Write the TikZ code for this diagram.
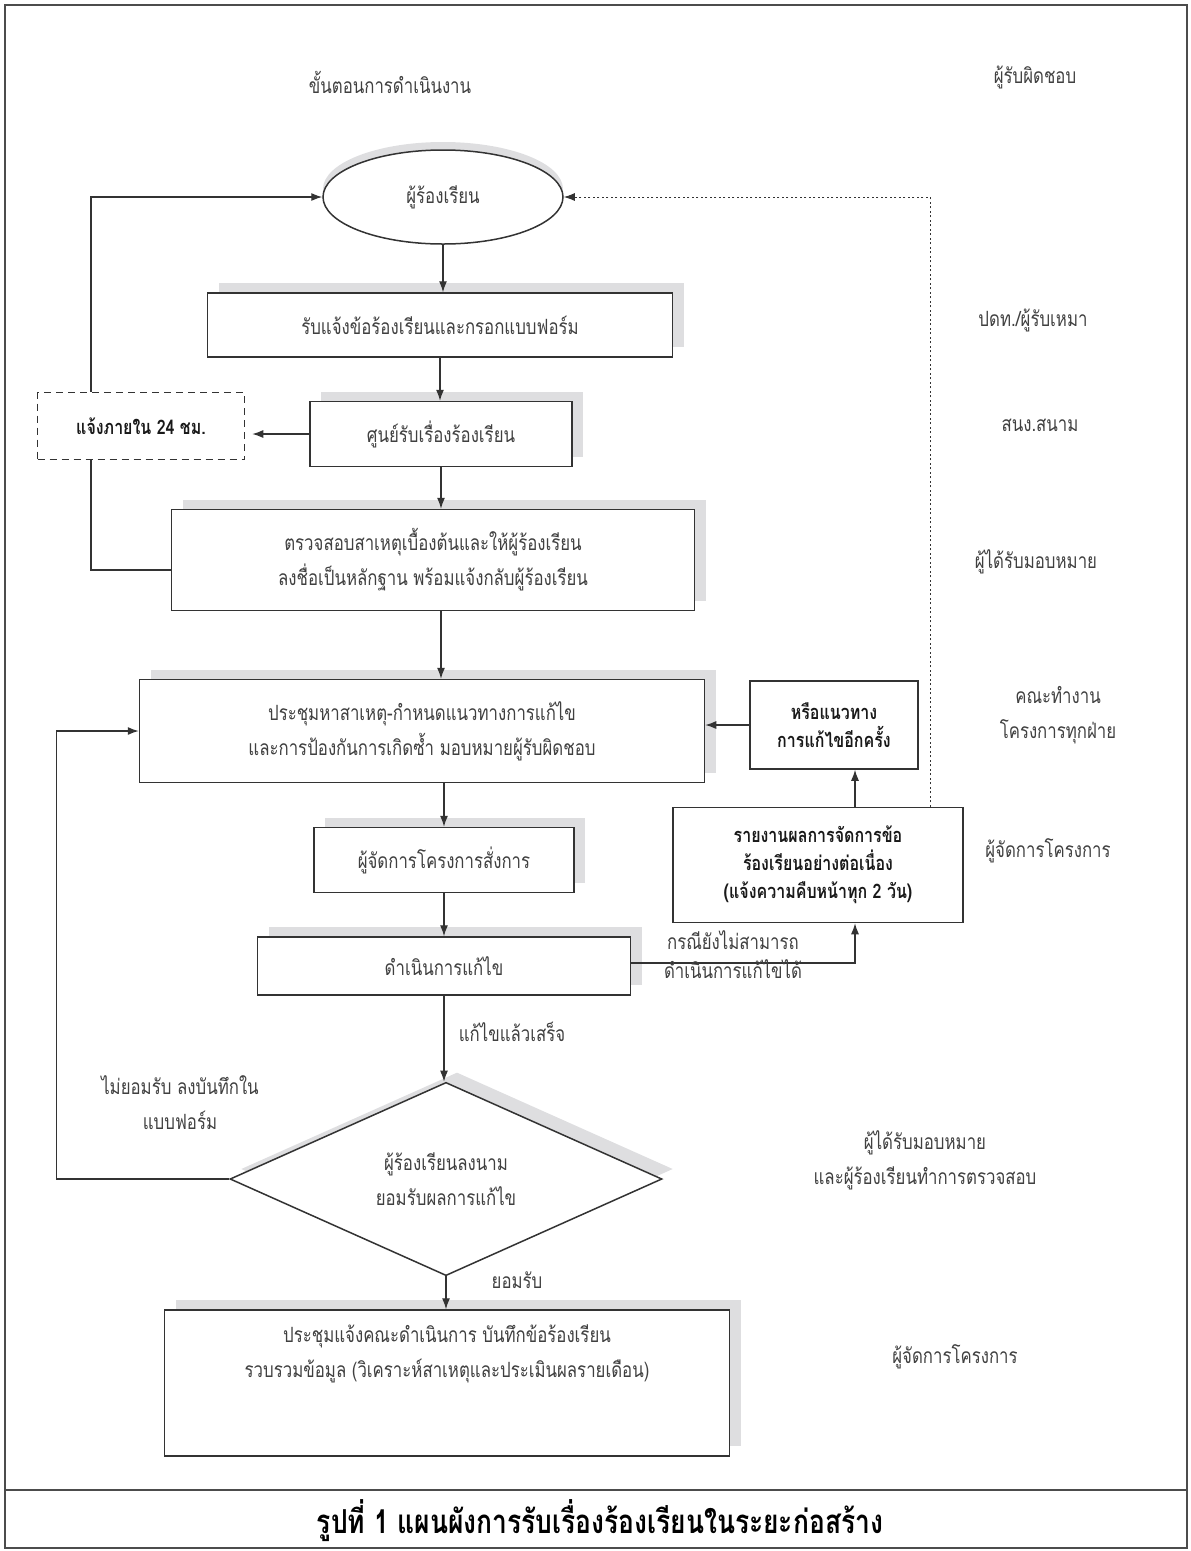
\documentclass[tikz,border=0pt]{standalone}
\usepackage{fontspec}
\setmainfont[Script=Thai,FakeStretch=0.8]{Loma}
\usetikzlibrary{positioning,shapes.geometric,arrows.meta,shadows}

\tikzset{
  box/.style={draw=black!80,line width=1.5pt,fill=white,inner sep=0pt,align=center,text=black!75},
  shade box/.style={box,drop shadow={shadow xshift=11pt,shadow yshift=10pt,opacity=1,fill=blue!5!black!13}},
  line/.style={draw=black!80,line width=1.2pt},
  note/.style={align=center,text=black!75},
  bold text/.style={font=\bfseries\fontsize{20}{28}\selectfont,text=black!90},
}

\begin{document}
\begin{tikzpicture}[x=1pt,y=-1pt,font=\fontsize{21}{35}\selectfont,>={Latex[length=11pt,width=8pt]}]
  \useasboundingbox (0,0) rectangle (1191,1551);
  % frame and caption
  \draw[black!70,line width=1.2pt] (5,5) rectangle (1187,1548);
  \draw[black!70,line width=1.2pt] (5,1490) -- (1187,1490);
  \node[font=\bfseries\fontsize{33}{38}\selectfont] (caption) at (600,1521) {รูปที่ 1 แผนผังการรับเรื่องร้องเรียนในระยะก่อสร้าง};

  \node[note] (head 1) at (390,82) {ขั้นตอนการดำเนินงาน};
  \node[note] (head 2) at (1035,77) {ผู้รับผิดชอบ};

  % flow
  \node[box,ellipse,minimum width=240pt,minimum height=94pt,drop shadow={shadow xshift=0pt,shadow yshift=8pt,opacity=1,fill=blue!5!black!13}] (start) at (443,197) {ผู้ร้องเรียน};
  \node[shade box,minimum width=465pt,minimum height=64pt] (step 1) at (440,325) {รับแจ้งข้อร้องเรียนและกรอกแบบฟอร์ม};
  \node[shade box,minimum width=262pt,minimum height=65pt] (step 2) at (441,434) {ศูนย์รับเรื่องร้องเรียน};
  \node[box,dashed,dash pattern=on 7pt off 5pt,minimum width=207pt,minimum height=67pt,bold text] (notice) at (141,426) {แจ้งภายใน 24 ชม.};
  \node[shade box,minimum width=523pt,minimum height=101pt] (step 3) at (433,560) {ตรวจสอบสาเหตุเบื้องต้นและให้ผู้ร้องเรียน\\ลงชื่อเป็นหลักฐาน พร้อมแจ้งกลับผู้ร้องเรียน};
  \node[shade box,minimum width=565pt,minimum height=103pt] (step 4) at (422,731) {ประชุมหาสาเหตุ-กำหนดแนวทางการแก้ไข\\และการป้องกันการเกิดซ้ำ มอบหมายผู้รับผิดชอบ};
  \node[box,minimum width=168pt,minimum height=88pt,bold text] (retry) at (834,725) {หรือแนวทาง\\การแก้ไขอีกครั้ง};
  \node[box,minimum width=290pt,minimum height=115pt,bold text] (report) at (818,865) {รายงานผลการจัดการข้อ\\ร้องเรียนอย่างต่อเนื่อง\\(แจ้งความคืบหน้าทุก 2 วัน)};
  \node[shade box,minimum width=260pt,minimum height=65pt] (step 5) at (444,860) {ผู้จัดการโครงการสั่งการ};
  \node[shade box,minimum width=373pt,minimum height=58pt] (step 6) at (444,966) {ดำเนินการแก้ไข};
  \node[shade box,diamond,minimum width=432pt,minimum height=182pt] (check) at (446,1179) {ผู้ร้องเรียนลงนาม\\ยอมรับผลการแก้ไข};
  \node[shade box,minimum width=565pt,minimum height=146pt] (step 7) at (447,1383) {};
  \node[note,below=12pt of step 7.north] (step 7 text) {ประชุมแจ้งคณะดำเนินการ บันทึกข้อร้องเรียน\\รวบรวมข้อมูล (วิเคราะห์สาเหตุและประเมินผลรายเดือน)};

  \draw[line,->] (start.south) -- (start.south |- step 1.north);
  \draw[line,->] (step 1.south) -- (step 1.south |- step 2.north);
  \draw[line,->] (step 2.south) -- (step 2.south |- step 3.north);
  \draw[line,->] (step 2.south |- step 3.south) -- (step 2.south |- step 4.north);
  \draw[line,->] (step 5.north |- step 4.south) -- (step 5.north);
  \draw[line,->] (step 5.south) -- (step 5.south |- step 6.north);
  \draw[line,->] (step 6.south) -- (step 6.south |- check.north);
  \draw[line,->] (check.south) -- (check.south |- step 7.north);
  \draw[line,->,shorten >=7pt] (step 2.west) -- (step 2.west -| notice.east);
  \draw[line] ([yshift=-10pt]step 3.west) -| ([xshift=-50pt]notice.south);
  \draw[line,->] ([xshift=-50pt]notice.north) |- (start.west);
  \draw[line,->,dash pattern=on 2pt off 2.5pt,line width=1pt] ([xshift=112pt]report.north) |- (start.east);
  \draw[line,->] ([yshift=3pt]step 6.east) -| ([xshift=37pt]report.south);
  \draw[line,->] ([xshift=37pt]report.north) -- ([xshift=37pt]report.north |- retry.south);
  \draw[line,->] (retry.west) -- (retry.west -| step 4.east);
  \draw[line,->] (check.west) -- ++(-173,0) |- (step 4.west);

  % connector labels
  \node[note] (fail) at (733,955) {กรณียังไม่สามารถ\\[-6pt]ดำเนินการแก้ไขได้};
  \node[note] (done) at (512,1032) {แก้ไขแล้วเสร็จ};
  \node[note] (reject) at (180,1103) {ไม่ยอมรับ ลงบันทึกใน\\แบบฟอร์ม};
  \node[note] (accept) at (517,1280) {ยอมรับ};

  % responsible
  \node[note] (role 1) at (1033,320) {ปดท./ผู้รับเหมา};
  \node[note] (role 2) at (1040,425) {สนง.สนาม};
  \node[note] (role 3) at (1036,562) {ผู้ได้รับมอบหมาย};
  \node[note] (role 4) at (1058,715) {คณะทำงาน\\โครงการทุกฝ่าย};
  \node[note] (role 5) at (1048,851) {ผู้จัดการโครงการ};
  \node[note] (role 6) at (925,1160) {ผู้ได้รับมอบหมาย\\และผู้ร้องเรียนทำการตรวจสอบ};
  \node[note] (role 7) at (955,1357) {ผู้จัดการโครงการ};
\end{tikzpicture}
\end{document}
